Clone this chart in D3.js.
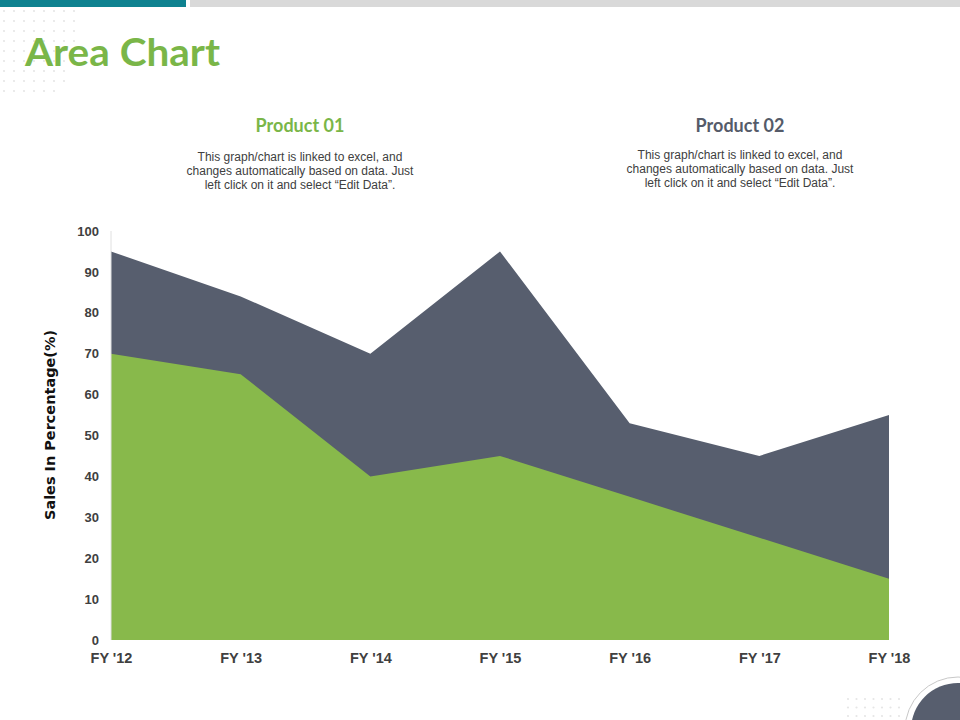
<!DOCTYPE html>
<html><head><meta charset="utf-8">
<script src="https://cdn.jsdelivr.net/npm/d3@7"></script>
<style>body{margin:0;background:#fff}svg{display:block}</style>
</head><body>
<script>
const categories = ["FY '12","FY '13","FY '14","FY '15","FY '16","FY '17","FY '18"];
const product01 = [70, 65, 40, 45, 35, 25, 15];
const product02 = [95, 84, 70, 95, 53, 45, 55];
const yTicks = [0,10,20,30,40,50,60,70,80,90,100];
const seriesNames = ["Product 01","Product 02"];
const descText = ["This graph/chart is linked to excel, and","changes automatically based on data. Just","left click on it and select \u201cEdit Data\u201d."];

const W=960,H=720;
const svg=d3.select("body").append("svg").attr("width",W).attr("height",H);

// top bars
svg.append("rect").attr("x",0).attr("y",0).attr("width",186).attr("height",7).attr("fill","#0f8290");
svg.append("rect").attr("x",190).attr("y",0).attr("width",770).attr("height",7).attr("fill","#d9d9d9");

// dot grids
function dots(x0,y0,cols,rows,step,clip){
  const g=svg.append("g");
  for(let r=0;r<rows;r++)for(let c=0;c<cols;c++){
    if(clip && !clip(c,r)) continue;
    g.append("circle").attr("cx",x0+c*step).attr("cy",y0+r*step).attr("r",1.1).attr("fill","#e6e6e6");
  }
}
dots(4,11,8,9,10,(c,r)=> c + r*0.6 < 10.5);
dots(848,699,7,3,8.5);

// bottom-right circle
svg.append("circle").attr("cx",958).attr("cy",730).attr("r",53).attr("fill","none").attr("stroke","#c8c8c8").attr("stroke-width",1);
svg.append("circle").attr("cx",958).attr("cy",730).attr("r",47).attr("fill","#575e6e");

// title
svg.append("text").attr("x",25).attr("y",66).text("Area Chart")
  .attr("textLength",195).attr("lengthAdjust","spacingAndGlyphs")
  .attr("font-family","Lato, 'Open Sans', sans-serif").attr("font-weight","bold").attr("font-size",38).attr("fill","#7ab648");

// headers
const heads=[{x:300,c:"#7ab648"},{x:740,c:"#555b69"}];
heads.forEach((h,i)=>{
  svg.append("text").attr("x",h.x).attr("y",132).attr("text-anchor","middle").text(seriesNames[i])
    .attr("font-family","Lato, sans-serif").attr("font-weight","bold").attr("font-size",18).attr("fill",h.c);
  descText.forEach((t,j)=>{
    svg.append("text").attr("x",h.x).attr("y",(i==0?161:159)+j*14).attr("text-anchor","middle").text(t)
      .attr("font-family","'Liberation Sans', Arial, sans-serif").attr("font-size",12).attr("fill","#404040");
  });
});

// chart
const x=d3.scalePoint().domain(categories).range([111,889]);
const y=d3.scaleLinear().domain([0,100]).range([640,231]);

const area=d3.area().x((d,i)=>x(categories[i])).y0(y(0)).y1(d=>y(d));
svg.append("path").datum(product02).attr("d",area).attr("fill","#575e6e");
svg.append("path").datum(product01).attr("d",area).attr("fill","#88b94b");

// y axis line
svg.append("line").attr("x1",111).attr("x2",111).attr("y1",231).attr("y2",640).attr("stroke","#e0e0e0");

const yAxis=d3.axisLeft(y).tickValues(yTicks).tickSize(0).tickPadding(12);
const gy=svg.append("g").attr("transform","translate(111,0)").call(yAxis);
gy.select(".domain").remove();
gy.selectAll("text").attr("font-family","'Liberation Sans', Arial, sans-serif").attr("font-weight","bold").attr("font-size",13).attr("fill","#404040");

const xAxis=d3.axisBottom(x).tickSize(0).tickPadding(13);
const gx=svg.append("g").attr("transform","translate(0,640)").call(xAxis);
gx.select(".domain").remove();
gx.selectAll("text").attr("font-family","'Liberation Sans', Arial, sans-serif").attr("font-weight","bold").attr("font-size",14.5).attr("fill","#404040");

svg.append("text").attr("transform","translate(55,425) rotate(-90)").attr("text-anchor","middle")
  .attr("textLength",190).attr("lengthAdjust","spacingAndGlyphs")
  .text("Sales In Percentage(%)").attr("font-family","'DejaVu Sans', sans-serif").attr("font-weight","bold").attr("font-size",13.5).attr("fill","#111");
</script>
</body></html>
